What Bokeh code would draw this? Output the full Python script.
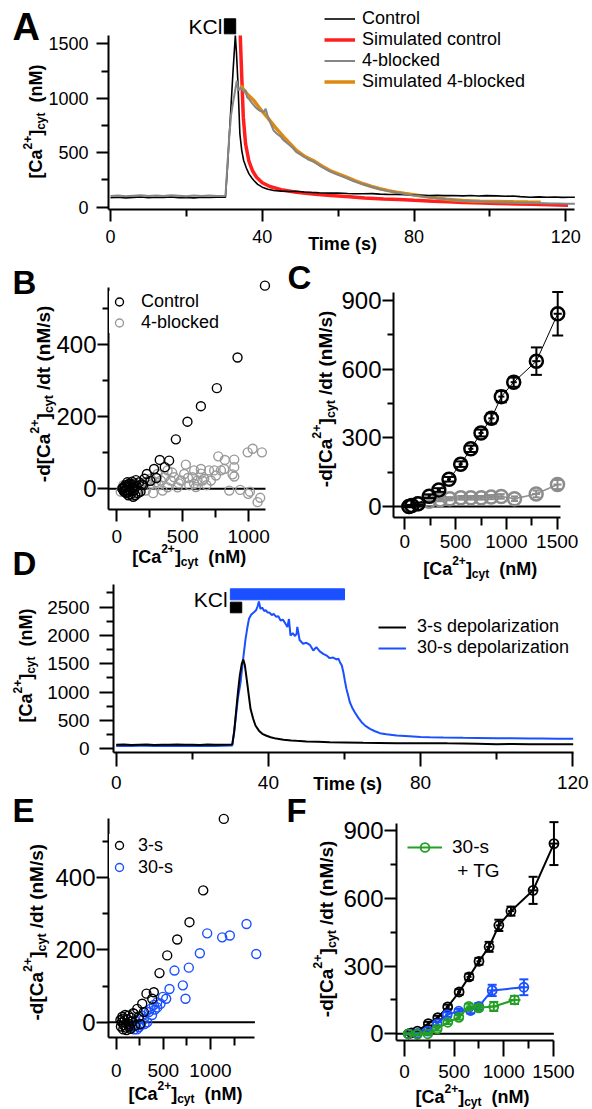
import math
from bokeh.plotting import figure
from bokeh.models import Range1d, FixedTicker, Label, Legend, LegendItem, LinearAxis
from bokeh.embed import file_html
from bokeh.resources import INLINE

# ---------------------------------------------------------------- data
# Panel A : [Ca2+]cyt (nM) vs time (s)
a_t_ctrl = [0, 2, 4, 6, 8, 10, 12, 14, 16, 18, 20, 22, 24, 26, 28,
            30.3, 30.8, 31.3, 31.8, 32.3, 32.9,
            33.2, 33.6, 34.1, 34.6, 35.1, 35.8, 36.5, 37.2, 37.8, 38.8,
            40, 41.5, 43, 45, 47, 49, 51, 53, 55, 57.8,
            60, 62.5, 64, 66.6, 69, 71, 73, 75.4, 78, 80,
            82, 84.2, 86, 88, 90, 93, 95, 97, 99, 101.8,
            104, 106, 108, 110.6, 113, 115, 117, 119, 121, 122.4]
a_ctrl = [88, 92, 86, 90, 93, 87, 91, 89, 94, 88, 90, 86, 92, 89, 91,
          92, 350, 650, 950, 1250, 1577,
          1420, 1133, 674, 520, 429, 360, 306, 270, 245, 210,
          184, 165, 153, 148, 144, 147, 140, 136, 133, 129,
          131, 126, 124, 123, 125, 120, 118, 117, 115, 112,
          110, 107, 109, 106, 108, 104, 107, 103, 106, 104,
          100, 103, 97, 92, 95, 91, 93, 90, 92, 92]
a_t_blk = [0, 2, 4, 6, 8, 10, 12, 14, 16, 18, 20, 22, 24, 26, 28,
           30.3, 30.8, 31.3, 31.8, 32.3, 32.8, 33.3, 33.7, 34.2, 34.7,
           35.2, 35.6, 36, 36.6, 37.2, 37.8, 38.2, 38.8, 39.4, 40,
           40.4, 40.9, 41.4, 42.2, 43, 44, 44.8, 45.7, 47, 48,
           49, 50.5, 52, 53.4, 55, 56.5, 57.8, 59, 60.5, 62.2,
           64, 66.6, 69, 71, 73, 75.4, 78, 80, 82, 84.2,
           86, 88.6, 91, 93, 95, 97.4, 100, 102, 104, 106.2,
           108, 110, 112, 114, 116, 118, 120, 122.4]
a_blk = [104, 108, 101, 106, 110, 103, 107, 102, 109, 105, 101, 107, 104, 108, 103,
         105, 380, 650, 850, 960, 1060, 1163, 1071, 1096, 1080,
         1060, 1075, 1010, 990, 960, 935, 918, 900, 885, 880,
         872, 905, 840, 770, 704, 670, 650, 612, 575, 545,
         505, 475, 440, 420, 385, 355, 330, 310, 290, 268,
         240, 210, 185, 165, 150, 135, 118, 108, 100, 90,
         82, 72, 65, 60, 56, 52, 48, 46, 45, 43,
         42, 40, 38, 37, 35, 34, 32, 31]
a_t_sim_ctrl = [34.2, 34.5, 35.0, 35.6, 36.5, 37.5, 38.5, 40, 42, 45,
                49, 54, 58, 63, 67, 72, 76, 80, 85, 89,
                93, 98, 102, 107, 111, 116, 120.6]
a_sim_ctrl = [1577, 1286, 827, 582, 420, 330, 275, 225, 190, 160,
              138, 118, 107, 95, 85, 76, 70, 63, 55, 49,
              43, 38, 34, 30, 27, 22, 18]
a_t_sim_blk = [34.3, 35, 36, 37.8, 39.5, 41.3, 43.5, 45.7, 47.4, 49,
               51, 53.4, 55.6, 57.8, 60, 62.2, 64.4, 66.6, 68.8, 71,
               73.2, 75.4, 77.6, 79.8, 82, 84.2, 86.4, 88.6, 90.8, 93,
               95.2, 97.4, 101.8, 106.2, 110, 113.4]
a_sim_blk = [1117, 1085, 1040, 980, 900, 827, 730, 643, 580, 521,
             470, 429, 380, 337, 305, 276, 245, 215, 190, 169,
             152, 138, 125, 114, 102, 92, 82, 73, 67, 61,
             58, 55, 52, 49, 47, 46]
kcl_start = [30]
kcl_end_3s = [33]
kcl_end_30s = [60]

# Panel B : -d[Ca]/dt (nM/s) vs [Ca] (nM)
b_ctrl_x = [1124, 916, 759, 638, 536, 448, 397, 326, 364, 283,
            228, 300, 255, 210, 190, 170, 150, 135, 120, 110,
            100, 92, 85, 78, 70, 62, 55, 48, 42, 160,
            140, 125, 105, 95, 88, 80, 72, 65, 58, 50,
            180, 200, 115, 130, 145]
b_ctrl_y = [563, 364, 279, 229, 186, 137, 78, 80, 60, 55,
            41, 30, 22, 28, 12, 18, 8, 15, 4, 12,
            -6, 8, -10, 5, -4, 6, -8, 3, 0, -12,
            -18, -22, -15, 14, -18, 18, -12, 10, -6, 2,
            -8, 10, 20, -5, 24]
b_blk_x = [1101, 1031, 993, 891, 820, 770, 815, 891, 891, 878,
           853, 936, 997, 1068, 1088, 1010, 524, 587, 638, 650,
           714, 752, 700, 511, 435, 486, 410, 360, 334, 309,
           258, 385, 461, 587, 663, 739, 574, 296, 220, 347,
           638, 790, 612, 385, 550, 680, 420, 250, 200, 180,
           160, 140, 120, 100, 80, 60, 40, 30, 50, 70,
           90, 110, 130, 150, 230, 275, 320, 470, 540, 600]
b_blk_y = [101, 111, 101, 81, 80, 90, 55, 60, 34, 40,
           -5, -3, -14, -37, -25, -8, 67, 51, 42, 23,
           23, 37, 51, 41, 32, 23, 23, 32, 23, 41,
           28, 4, 4, 14, 28, 51, 32, 18, -5, -5,
           55, 51, 23, 51, 10, 10, 45, 10, 15, 0,
           -8, 5, -10, 0, 8, -4, 2, -8, 10, -12,
           14, -6, 12, -14, 20, -12, 10, 15, 30, 5]

# Panels C and F : binned means +/- SEM
ctrl_x = [40, 70, 130, 240, 335, 435, 550, 650, 750, 852, 950, 1072, 1295, 1505]
ctrl_y = [0, 4, 12, 45, 72, 119, 185, 252, 321, 385, 480, 543, 635, 842]
ctrl_yerr = [3, 3, 5, 8, 8, 10, 12, 14, 15, 22, 25, 20, 60, 95]
ctrl_xerr = [5, 5, 10, 15, 20, 20, 20, 25, 25, 30, 30, 30, 40, 40]
blk_x = [46, 131, 239, 347, 443, 551, 650, 752, 850, 949, 1080, 1293, 1503]
blk_y = [0, 12, 23, 29, 34, 38, 38, 38, 41, 44, 34, 55, 96]
blk_yerr = [3, 5, 6, 6, 7, 8, 8, 8, 9, 10, 10, 15, 20]
blk_xerr = [5, 10, 15, 20, 20, 20, 25, 25, 25, 30, 30, 40, 40]
s30_x = [40, 130, 235, 329, 430, 547, 665, 748, 883, 1202]
s30_y = [0, 2, 12, 44, 85, 100, 103, 121, 192, 206]
s30_yerr = [2, 3, 5, 8, 10, 10, 12, 15, 25, 35]
s30_xerr = [5, 10, 15, 20, 20, 25, 25, 30, 40, 45]
tg_x = [37, 130, 235, 329, 436, 547, 648, 748, 899, 1108]
tg_y = [0, -2, 0, 22, 51, 73, 121, 115, 121, 150]
tg_yerr = [2, 3, 4, 8, 8, 10, 12, 12, 20, 18]
tg_xerr = [5, 10, 15, 20, 20, 25, 25, 30, 40, 60]

# Panel D : [Ca2+]cyt (nM) vs time (s)
d_t_3s = [0, 2, 4, 6, 8, 10, 12, 14, 16, 18, 20, 22, 24, 26, 28,
          30.5, 31, 31.5, 32, 32.5, 33, 33.4, 33.8, 34.4, 35.3,
          36, 36.6, 37.5, 38.4, 39.5, 40.6, 42, 44, 46, 47.4,
          50, 53, 56.1, 60, 64.9, 69, 73.7, 78, 82.4, 87,
          91.2, 95, 100, 104, 108.7, 113, 117, 120.1]
d_3s = [70, 74, 68, 72, 75, 69, 73, 71, 76, 70, 72, 68, 74, 71, 73,
        75, 300, 650, 1000, 1300, 1500, 1576, 1480, 1175, 706,
        530, 411, 320, 265, 230, 205, 180, 159, 148, 141,
        130, 125, 117, 112, 106, 103, 100, 99, 100, 96,
        94, 90, 82, 84, 82, 80, 82, 82]
d_t_30s = [0, 2, 4, 6, 8, 10, 12, 14, 16, 18, 20, 22, 24, 26, 28,
           30.5, 31, 31.5, 32, 32.7, 33.3, 34, 34.5, 34.9, 35.5,
           36.2, 36.8, 37.2, 37.5, 37.9, 38.4, 38.9, 39.3, 39.7, 40.3,
           40.9, 41.4, 42, 42.6, 43.2, 43.8, 44.5, 45, 45.4, 45.8,
           46.4, 47, 47.4, 47.6, 48.2, 49.1, 50, 50.9, 51.8, 52.6,
           53.5, 54.4, 55.2, 56.1, 57, 57.9, 58.4, 58.8, 59.3, 59.7,
           60.1, 60.5, 61, 61.4, 62, 62.7, 63.6, 64.5, 65.5, 66.7,
           68, 69.3, 71, 73.7, 77, 80, 82.4, 86, 91.2, 95,
           100, 104, 108.7, 112, 116, 120.1]
d_30s = [50, 54, 48, 52, 55, 49, 53, 51, 56, 50, 52, 48, 54, 51, 53,
         60, 300, 600, 900, 1175, 1550, 1941, 2150, 2294, 2370,
         2411, 2450, 2520, 2600, 2470, 2490, 2430, 2450, 2411, 2400,
         2360, 2382, 2330, 2340, 2264, 2280, 2206, 2150, 2290, 2000,
         2040, 1990, 2029, 2150, 1920, 1853, 1870, 1835, 1735, 1794,
         1720, 1676, 1650, 1600, 1610, 1576, 1590, 1529, 1470, 1352,
         1200, 1059, 930, 823, 730, 646, 550, 470, 405, 353,
         310, 276, 255, 235, 222, 210, 205, 200, 194, 192,
         188, 186, 182, 180, 178, 176]

# Panel E : -d[Ca]/dt vs [Ca]
e_3s_x = [1141, 923, 777, 647, 541, 459, 399, 321, 382, 276,
          223, 293, 187, 160, 140, 120, 100, 90, 80, 70,
          60, 50, 45, 110, 130, 150, 170, 200, 240, 255,
          95, 75, 65, 135, 180]
e_3s_y = [563, 365, 277, 229, 185, 136, 83, 79, 65, 51,
          37, 28, 23, 12, -5, 8, -15, 5, -8, 10,
          0, -12, 6, -22, 18, -18, 2, -10, 15, -5,
          20, -20, 15, -12, 25]
e_30s_x = [1382, 965, 1205, 1124, 1485, 887, 770, 618, 707, 735,
           565, 530, 495, 435, 399, 364, 321, 276, 241, 205,
           170, 293, 346, 435, 470, 241, 329, 190, 220, 260,
           380, 410, 300]
e_30s_y = [272, 246, 240, 235, 189, 191, 151, 143, 102, 65,
           92, 65, 70, 55, 48, 37, 30, 18, 9, -5,
           -14, 9, 28, 41, 51, -14, 0, -20, -20, -8,
           20, 35, -5]

# ---------------------------------------------------------------- styling helpers
W, H = 592, 1109
FONT = "Liberation Sans"
BLACK = "#000000"
GRAY_A = "#858585"
RED = "#ff1f1f"
ORANGE = "#dc8a12"
BLUE = "#1a50ff"
GREEN = "#23a023"
GRAY_B = "#9a9a9a"
GRAY_C = "#8c8c8c"
MID = 0.35   # em distance from a 'middle' anchor down to the alphabetic baseline

BOLD_W = {" ": 278, "(": 333, ")": 333, "+": 584, "-": 333, "/": 278, "2": 556,
          "C": 722, "M": 833, "N": 722, "[": 333, "]": 333, "a": 556, "c": 556,
          "d": 611, "n": 611, "s": 556, "t": 333, "y": 556, "T": 611, "i": 278,
          "m": 889, "e": 556}

# one canvas; its default ranges are page pixels (y grows downwards)
P = figure(width=W, height=H, x_range=Range1d(0, W), y_range=Range1d(H, 0),
           x_axis_location=None, y_axis_location=None,
           min_border_left=0, min_border_right=0, min_border_top=0, min_border_bottom=0,
           toolbar_location=None, output_backend="svg")
P.outline_line_color = None
P.xgrid.visible = False
P.ygrid.visible = False
P.background_fill_color = "white"
P.border_fill_color = "white"


def text_w(s, size):
    return sum(BOLD_W.get(c, 556) for c in s) * size / 1000.0


class Panel:
    """One sub-chart: its own named x/y ranges, mapped linearly onto page pixels."""

    def __init__(self, name, axis_px, axis_py, xmap, ymap):
        self.xmap, self.ymap = xmap, ymap
        xn, yn = name + "_x", name + "_y"
        P.extra_x_ranges = {**P.extra_x_ranges, xn: Range1d(self.X(0), self.X(W))}
        P.extra_y_ranges = {**P.extra_y_ranges, yn: Range1d(self.Y(H), self.Y(0))}
        self.kw = dict(x_range_name=xn, y_range_name=yn)
        self.ax_x = self.X(axis_px)   # data x where the y axis stands
        self.ax_y = self.Y(axis_py)   # data y where the x axis stands

    def X(self, px):
        return (px - self.xmap[0]) / self.xmap[1]

    def Y(self, py):
        return (self.ymap[0] - py) / self.ymap[1]


def make_axis(pn, side, ticks, minor, bound_end, size, tick_out, minor_out, standoff):
    if side == "below":
        loc, start = pn.ax_y, pn.ax_x
    else:
        loc, start = pn.ax_x, pn.ax_y
    ax = LinearAxis(**pn.kw, fixed_location=loc, bounds=(start, bound_end),
                    ticker=FixedTicker(ticks=ticks, minor_ticks=minor))
    ax.axis_line_width = 2
    ax.axis_line_color = BLACK
    ax.major_tick_line_width = 2
    ax.minor_tick_line_width = 2
    ax.major_tick_line_color = BLACK
    ax.minor_tick_line_color = BLACK
    ax.major_tick_in = 0
    ax.major_tick_out = tick_out
    ax.minor_tick_in = 0
    ax.minor_tick_out = minor_out
    ax.major_label_text_font = FONT
    ax.major_label_text_font_size = f"{size}px"
    ax.major_label_text_color = BLACK
    ax.major_label_standoff = standoff
    P.add_layout(ax, side)


def axes(pn, xt, xm, xend, yt, ym, yend, xsize, ysize, xout, xmin, xstand, yout, ymin, ystand):
    make_axis(pn, "below", xt, xm, xend, xsize, xout, xmin, xstand)
    make_axis(pn, "left", yt, ym, yend, ysize, yout, ymin, ystand)


def label(x, y, text, size, bold=False, angle=0.0):
    """(x, y): page position where the alphabetic baseline of the text starts."""
    if angle == 0.0:
        y = y - MID * size
    else:
        x = x - MID * size
    P.add_layout(Label(x=x, y=y, text=text, text_font=FONT, text_font_size=f"{size}px",
                       text_font_style="bold" if bold else "normal",
                       text_baseline="middle", text_align="left",
                       angle=angle, text_color=BLACK))


def rich(pieces, x, y, rotated=False):
    cur = y if rotated else x
    for text, size, shift in pieces:
        if text == "":
            adv = size
        else:
            if rotated:
                label(x - shift, cur, text, size, bold=True, angle=math.pi / 2)
            else:
                label(cur, y - shift, text, size, bold=True)
            adv = text_w(text, size)
        cur = cur - adv if rotated else cur + adv


CA_LABEL = [("[Ca", 18, 0), ("2+", 12, 11), ("]", 18, 0), ("cyt", 12, -3), ("", 10, 0), ("(nM)", 18, 0)]
RATE_LABEL = [("-d[Ca", 19, 0), ("2+", 12.5, 11.5), ("]", 19, 0), ("cyt", 12.5, -3), ("", 5, 0),
              ("/dt (nM/s)", 19, 0)]


def legend(items, glyph_left, row1, glyph_w, item_h, standoff, padding, size, bg_alpha=0.0):
    n = len(items)
    top = row1 - item_h / 2 - padding
    bottom = top + n * item_h + 2 * padding
    loc = (int(round(glyph_left - padding)), int(round(H - bottom)))
    leg = Legend(items=[LegendItem(label=l, renderers=r) for l, r in items], location=loc,
                 orientation="vertical", glyph_width=glyph_w, glyph_height=item_h,
                 label_height=item_h, label_standoff=standoff, padding=padding,
                 spacing=0, margin=0, border_line_color=None,
                 background_fill_color="white", background_fill_alpha=bg_alpha,
                 label_text_font=FONT, label_text_font_size=f"{size}px",
                 label_text_color=BLACK)
    P.add_layout(leg)


def errbars(pn, xs, ys, yerr, xerr, color, cap, lw):
    lo = [y - e for y, e in zip(ys, yerr)]
    hi = [y + e for y, e in zip(ys, yerr)]
    le = [x - e for x, e in zip(xs, xerr)]
    ri = [x + e for x, e in zip(xs, xerr)]
    P.segment(x0=xs, y0=lo, x1=xs, y1=hi, line_color=color, line_width=lw, **pn.kw)
    P.segment(x0=le, y0=ys, x1=ri, y1=ys, line_color=color, line_width=lw, **pn.kw)
    P.scatter(xs, lo, marker="dash", size=cap, line_color=color, line_width=lw, **pn.kw)
    P.scatter(xs, hi, marker="dash", size=cap, line_color=color, line_width=lw, **pn.kw)


def zero_line(pn, xend):
    P.segment(x0=[pn.ax_x], y0=[0], x1=[xend], y1=[0], line_color=BLACK, line_width=2, **pn.kw)


def circles(pn, xs, ys, color, size, lw):
    return P.scatter(xs, ys, marker="circle", size=size, fill_color=None,
                     line_color=color, line_width=lw, **pn.kw)


# ---------------------------------------------------------------- Panel A
A = Panel("A", 108, 209, (110, 3.794), (206.7, 0.1089))
axes(A, [0, 40, 80, 120], [20, 60, 100], 122.4, [0, 500, 1000, 1500], [250, 750, 1250], 1577,
     18, 18, 12, 7, 8, 12, 7, 8)
P.quad(left=kcl_start, right=kcl_end_3s, bottom=[A.Y(33.3)], top=[A.Y(18.3)], color=BLACK, **A.kw)
rA_red = P.line(a_t_sim_ctrl, a_sim_ctrl, line_color=RED, line_width=3.5, **A.kw)
rA_org = P.line(a_t_sim_blk, a_sim_blk, line_color=ORANGE, line_width=3.5, **A.kw)
rA_blk = P.line(a_t_ctrl, a_ctrl, line_color=BLACK, line_width=1.6, **A.kw)
rA_gry = P.line(a_t_blk, a_blk, line_color=GRAY_A, line_width=2, **A.kw)
legend([("Control", [rA_blk]), ("Simulated control", [rA_red]),
        ("4-blocked", [rA_gry]), ("Simulated 4-blocked", [rA_org])],
       324, 18.3, 31, 21, 7, 0, 18)
label(12, 40, "A", 38, bold=True)
label(188, 33.3, "KCl", 21)
label(307.7, 250, "Time (s)", 18, bold=True)
rich(CA_LABEL, 42, 178, rotated=True)

# ---------------------------------------------------------------- Panel B
B = Panel("B", 108, 509, (116.3, 0.1318), (488.3, 0.3608))
axes(B, [0, 500, 1000], [250, 750], 1128, [0, 200, 400], [100, 300, 500], 559,
     19, 24, 12, 8, 8, 11, 6, 1)
zero_line(B, 1128)
rB_blk = circles(B, b_blk_x, b_blk_y, GRAY_B, 9, 1.4)
rB_ctl = circles(B, b_ctrl_x, b_ctrl_y, BLACK, 9, 1.4)
legend([("Control", [rB_ctl]), ("4-blocked", [rB_blk])], 118, 292, 20, 21, 12, 9, 18, bg_alpha=1.0)
label(12, 293.3, "B", 33, bold=True)
rich(RATE_LABEL, 50, 481.7, rotated=True)
rich(CA_LABEL, 131.7, 563)

# ---------------------------------------------------------------- Panel C
C = Panel("C", 393, 517, (404.3, 0.1016), (506, 0.2289))
axes(C, [0, 500, 1000, 1500], [250, 750, 1250], 1532, [0, 300, 600, 900], [150, 450, 750], 936,
     19, 24, 12, 8, 5, 11, 6, 1)
zero_line(C, 1532)
P.line(blk_x, blk_y, line_color=GRAY_C, line_width=1.5, **C.kw)
errbars(C, blk_x, blk_y, blk_yerr, blk_xerr, GRAY_C, 7, 2)
circles(C, blk_x, blk_y, GRAY_C, 13, 2.5)
P.line(ctrl_x, ctrl_y, line_color=BLACK, line_width=1, **C.kw)
errbars(C, ctrl_x, ctrl_y, ctrl_yerr, ctrl_xerr, BLACK, 11, 2)
circles(C, ctrl_x, ctrl_y, BLACK, 13, 2.5)
label(287, 288.3, "C", 33, bold=True)
rich(RATE_LABEL, 332, 486.7, rotated=True)
rich(CA_LABEL, 422.7, 575)

# ---------------------------------------------------------------- Panel D
D = Panel("D", 113, 752, (115.7, 3.805), (748.3, 0.05667))
axes(D, [0, 40, 80, 120], [20, 60, 100], 120.3, [0, 500, 1000, 1500, 2000, 2500],
     [250, 750, 1250, 1750, 2250, 2750], 2894, 19, 19, 14, 7, 9, 14, 7, 10)
P.quad(left=kcl_start, right=kcl_end_30s, bottom=[D.Y(599.3)], top=[D.Y(588.3)], color=BLUE, **D.kw)
P.quad(left=kcl_start, right=kcl_end_3s, bottom=[D.Y(612.3)], top=[D.Y(601.7)], color=BLACK, **D.kw)
rD_30 = P.line(d_t_30s, d_30s, line_color=BLUE, line_width=2, **D.kw)
rD_3 = P.line(d_t_3s, d_3s, line_color=BLACK, line_width=2, **D.kw)
legend([("3-s depolarization", [rD_3]), ("30-s depolarization", [rD_30])],
       378, 627.7, 28, 20, 11, 0, 18)
label(12, 575, "D", 33, bold=True)
label(193.3, 606.7, "KCl", 21)
label(312.7, 790, "Time (s)", 18, bold=True)
rich(CA_LABEL, 32, 722, rotated=True)

# ---------------------------------------------------------------- Panel E
E = Panel("E", 108, 1037, (115.7, 0.0943), (1021.7, 0.3611))
axes(E, [0, 500, 1000], [250, 750, 1250], 1471, [0, 200, 400], [100, 300, 500], 563,
     19, 24, 12, 8, 14, 12, 6, 1)
zero_line(E, 1471)
rE_30 = circles(E, e_30s_x, e_30s_y, BLUE, 9, 1.4)
rE_3 = circles(E, e_3s_x, e_3s_y, BLACK, 9, 1.4)
legend([("3-s", [rE_3]), ("30-s", [rE_30])], 114, 840, 20, 22, 9, 5, 18, bg_alpha=1.0)
label(12, 821.7, "E", 33, bold=True)
rich(RATE_LABEL, 43, 1020, rotated=True)
rich(CA_LABEL, 128, 1100)

# ---------------------------------------------------------------- Panel F
F = Panel("F", 396, 1040, (404, 0.0993), (1033.3, 0.2259))
axes(F, [0, 500, 1000, 1500], [250, 750, 1250], 1504, [0, 300, 600, 900], [150, 450, 750], 930,
     19, 24, 16, 8, 8, 12, 6, 1)
zero_line(F, 1504)
P.line(ctrl_x, ctrl_y, line_color=BLACK, line_width=2, **F.kw)
errbars(F, ctrl_x, ctrl_y, ctrl_yerr, ctrl_xerr, BLACK, 9, 2)
circles(F, ctrl_x, ctrl_y, BLACK, 9, 1.8)
P.line(s30_x, s30_y, line_color=BLUE, line_width=2, **F.kw)
errbars(F, s30_x, s30_y, s30_yerr, s30_xerr, BLUE, 9, 2)
circles(F, s30_x, s30_y, BLUE, 9, 1.8)
rF_tgl = P.line(tg_x, tg_y, line_color=GREEN, line_width=2, **F.kw)
errbars(F, tg_x, tg_y, tg_yerr, tg_xerr, GREEN, 9, 2)
rF_tgc = circles(F, tg_x, tg_y, GREEN, 9, 1.8)
legend([("30-s", [rF_tgl, rF_tgc])], 407, 846.7, 35, 22, 10, 0, 19)
label(456.7, 877, "+ TG", 19)
label(286, 821.7, "F", 33, bold=True)
rich(RATE_LABEL, 333, 1016.7, rotated=True)
rich(CA_LABEL, 415, 1103)

open("out.html", "w").write(file_html(P, INLINE))
